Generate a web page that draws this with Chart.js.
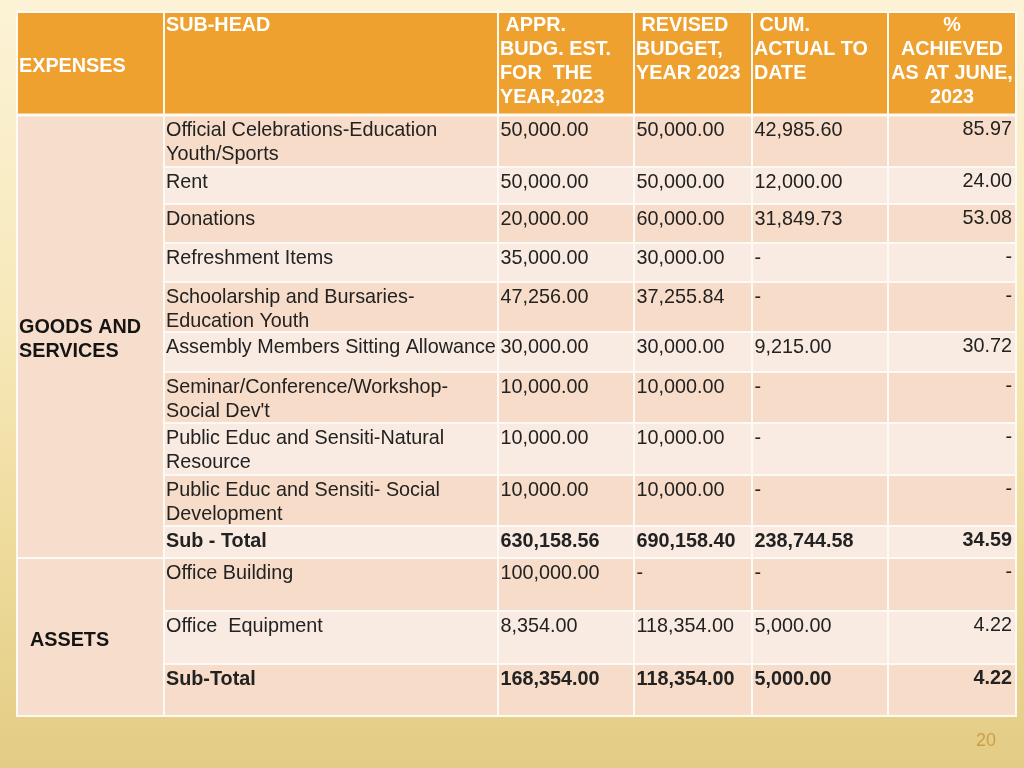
<!DOCTYPE html>
<html>
<head>
<meta charset="utf-8">
<title>Expenses table</title>
<script src="https://cdn.jsdelivr.net/npm/chart.js@4/dist/chart.umd.min.js"></script>
<style>
  html, body { margin: 0; padding: 0; }
  body {
    width: 1024px; height: 768px; overflow: hidden;
    background: linear-gradient(180deg, #fcf3d6 0%, #f7e9bb 40%, #eedc9d 70%, #e3cc84 100%);
  }
  #wrap { position: relative; width: 1024px; height: 768px; }
  #page { position: absolute; left: 976px; top: 730px; font: 18px "Liberation Sans", Arial, sans-serif; color: #c9a04a; }
</style>
</head>
<body>
<div id="wrap">
  <canvas id="table"></canvas>
  <div id="page">20</div>
</div>
<script>
// header text, one array of lines per column
const headerLabels = [
  ['EXPENSES'],
  ['SUB-HEAD'],
  [' APPR.', 'BUDG. EST.', 'FOR  THE', 'YEAR,2023'],
  [' REVISED', 'BUDGET,', 'YEAR 2023'],
  [' CUM.', 'ACTUAL TO', 'DATE'],
  ['%', 'ACHIEVED', 'AS AT JUNE,', '2023']
];

const subHeads = [
  ['Official Celebrations-Education', 'Youth/Sports'],
  ['Rent'],
  ['Donations'],
  ['Refreshment Items'],
  ['Schoolarship and Bursaries-', 'Education Youth'],
  ['Assembly Members Sitting Allowance'],
  ['Seminar/Conference/Workshop-', "Social Dev't"],
  ['Public Educ and Sensiti-Natural', 'Resource'],
  ['Public Educ and Sensiti- Social', 'Development'],
  ['Sub - Total'],
  ['Office Building'],
  ['Office  Equipment'],
  ['Sub-Total']
];

const apprBudget    = [50000, 50000, 20000, 35000, 47256, 30000, 10000, 10000, 10000, 630158.56, 100000, 8354, 168354];
const revisedBudget = [50000, 50000, 60000, 30000, 37255.84, 30000, 10000, 10000, 10000, 690158.40, null, 118354, 118354];
const cumActual     = [42985.60, 12000, 31849.73, null, null, 9215, null, null, null, 238744.58, null, 5000, 5000];
const pctAchieved   = [85.97, 24.00, 53.08, null, null, 30.72, null, null, null, 34.59, null, 4.22, 4.22];

const totalRows = [9, 12];
const groupLabels = [['GOODS AND', 'SERVICES'], ['  ASSETS']];
const groupRows = [[0, 9], [10, 12]];

// table layout, in table units (x: 0..999, y: 0..704)
const colEdges = [0, 147, 481, 617, 735, 871, 999];
const rowEdges = [0, 103, 155, 192, 231, 270, 320, 360, 411, 463, 514, 546, 599, 652, 704];

const FONT = '"Liberation Sans", Arial, sans-serif';
const fmt = v => v == null ? '-' : v.toLocaleString('en-US', {minimumFractionDigits: 2, maximumFractionDigits: 2});

const tablePlugin = {
  id: 'tableCells',
  afterDraw(chart) {
    const {ctx, scales: {x, y}} = chart;
    const px = v => x.getPixelForValue(v);
    const py = v => y.getPixelForValue(v);

    ctx.save();
    const cell = (c0, c1, r0, r1, color) => {
      ctx.fillStyle = color;
      ctx.fillRect(px(c0), py(r0), px(c1) - px(c0), py(r1) - py(r0));
    };

    // header row
    cell(colEdges[0], colEdges[6], rowEdges[0], rowEdges[1], '#eea12f');

    // group column
    groupRows.forEach(([a, b]) => cell(colEdges[0], colEdges[1], rowEdges[a + 1], rowEdges[b + 2], '#f7decc'));

    // body rows
    subHeads.forEach((_, i) => {
      const color = i % 2 === 0 ? '#f7dcc9' : '#faebe2';
      cell(colEdges[1], colEdges[6], rowEdges[i + 1], rowEdges[i + 2], color);
    });

    // white grid
    ctx.strokeStyle = '#fdf9f4';
    const groupEdges = new Set([0, 1, rowEdges.length - 1]);
    groupRows.forEach(([a, b]) => groupEdges.add(b + 2));
    rowEdges.forEach((r, k) => {
      ctx.lineWidth = k === 1 ? 3 : 2;
      const x0 = groupEdges.has(k) ? colEdges[0] : colEdges[1];
      ctx.beginPath();
      ctx.moveTo(px(x0) - 1, py(r));
      ctx.lineTo(px(colEdges[6]) + 1, py(r));
      ctx.stroke();
    });
    ctx.lineWidth = 2;
    colEdges.forEach(c => {
      ctx.beginPath();
      ctx.moveTo(px(c), py(rowEdges[0]));
      ctx.lineTo(px(c), py(rowEdges[rowEdges.length - 1]));
      ctx.stroke();
    });

    const lh = 24;
    const fs = '19.8px ';
    ctx.textBaseline = 'alphabetic';

    // header text
    ctx.fillStyle = '#ffffff';
    ctx.font = 'bold ' + fs + FONT;
    headerLabels.forEach((lines, c) => {
      const left = px(colEdges[c]), right = px(colEdges[c + 1]);
      if (c === 0) {
        const mid = (py(rowEdges[0]) + py(rowEdges[1])) / 2;
        ctx.textAlign = 'left';
        ctx.fillText(lines[0], left + 2, mid + 8);
      } else if (c === 5) {
        ctx.textAlign = 'center';
        lines.forEach((t, k) => ctx.fillText(t, (left + right) / 2, py(rowEdges[0]) + 19 + k * lh));
      } else {
        ctx.textAlign = 'left';
        lines.forEach((t, k) => ctx.fillText(t, left + 2, py(rowEdges[0]) + 19 + k * lh));
      }
    });

    // group labels
    ctx.fillStyle = '#141414';
    ctx.textAlign = 'left';
    groupLabels.forEach((lines, g) => {
      const [a, b] = groupRows[g];
      const mid = (py(rowEdges[a + 1]) + py(rowEdges[b + 2])) / 2;
      const top = mid - (lines.length - 1) * lh / 2;
      lines.forEach((t, k) => ctx.fillText(t, px(colEdges[0]) + 2, top + 8.5 + k * lh));
    });

    // body text
    ctx.fillStyle = '#222222';
    subHeads.forEach((lines, i) => {
      const top = py(rowEdges[i + 1]);
      ctx.font = (totalRows.includes(i) ? 'bold ' : '') + fs + FONT;
      ctx.textAlign = 'left';
      lines.forEach((t, k) => ctx.fillText(t, px(colEdges[1]) + 2, top + 21 + k * lh));
      [apprBudget, revisedBudget, cumActual].forEach((arr, j) => {
        ctx.fillText(fmt(arr[i]), px(colEdges[2 + j]) + 2.5, top + 21);
      });
      ctx.textAlign = 'right';
      ctx.fillText(fmt(pctAchieved[i]), px(colEdges[6]) - 4, top + 20);
    });
    ctx.restore();
  }
};

new Chart(document.getElementById('table'), {
  type: 'scatter',
  data: { datasets: [] },
  options: {
    responsive: true,
    maintainAspectRatio: false,
    animation: false,
    layout: { padding: { left: 17, top: 12, right: 8, bottom: 52 } },
    plugins: { legend: { display: false }, tooltip: { enabled: false } },
    scales: {
      x: { type: 'linear', min: 0, max: 999, display: false },
      y: { type: 'linear', min: 0, max: 704, reverse: true, display: false }
    }
  },
  plugins: [tablePlugin]
});
</script>
</body>
</html>
